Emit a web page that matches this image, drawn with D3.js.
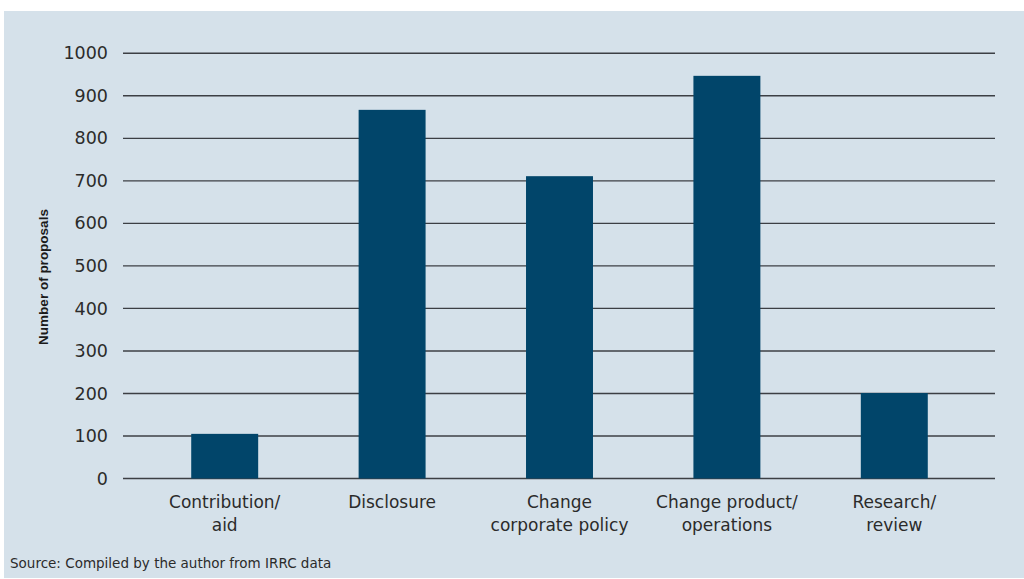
<!DOCTYPE html>
<html>
<head>
<meta charset="utf-8">
<script src="https://cdn.jsdelivr.net/npm/d3@7"></script>
<style>
  html, body { margin: 0; padding: 0; background: #ffffff; }
  svg { display: block; }
</style>
</head>
<body>
<svg id="chart" width="1024" height="579"></svg>
<script>
// Shareholder proposals by type of action requested
const categories = [
  ["Contribution/", "aid"],
  ["Disclosure"],
  ["Change", "corporate policy"],
  ["Change product/", "operations"],
  ["Research/", "review"]
];
const proposals = [105, 867, 711, 947, 201];
const yTicks = [0, 100, 200, 300, 400, 500, 600, 700, 800, 900, 1000];
const yTitle = "Number of proposals";
const sourceNote = "Source: Compiled by the author from IRRC data";

const svg = d3.select("#chart");
const W = 1024, H = 579;
const labelFont = "DejaVu Sans, Verdana, sans-serif";

// Panel background
svg.append("rect")
  .attr("x", 4).attr("y", 11)
  .attr("width", W - 4).attr("height", H - 12)
  .attr("fill", "#d5e1ea");

const gridLeft = 123, gridRight = 995;
const y = d3.scaleLinear().domain([0, 1000]).range([478.5, 53.3]);
const x = d3.scaleBand()
  .domain(categories.map((d, i) => i))
  .range([141, 978])
  .paddingInner(0.6)
  .paddingOuter(0.3);

// Horizontal gridlines
svg.append("g")
  .selectAll("line")
  .data(yTicks)
  .join("line")
  .attr("x1", gridLeft).attr("x2", gridRight)
  .attr("y1", d => y(d)).attr("y2", d => y(d))
  .attr("stroke", "#3c3f44")
  .attr("stroke-width", 1.4);

// Y axis tick labels
const yAxis = d3.axisLeft(y).tickValues(yTicks).tickFormat(d3.format("d")).tickSize(0).tickPadding(0);
const gy = svg.append("g").attr("transform", "translate(108,0)").call(yAxis);
gy.select(".domain").remove();
gy.selectAll("text")
  .attr("font-family", labelFont)
  .attr("font-size", 17.5)
  .attr("fill", "#2b2b2b");

// Bars
svg.append("g")
  .selectAll("rect")
  .data(proposals)
  .join("rect")
  .attr("x", (d, i) => x(i))
  .attr("width", x.bandwidth())
  .attr("y", d => y(d))
  .attr("height", d => y(0) - y(d))
  .attr("fill", "#01456a");

// Category labels
const labels = svg.append("g");
categories.forEach((lines, i) => {
  const cx = x(i) + x.bandwidth() / 2;
  const t = labels.append("text")
    .attr("text-anchor", "middle")
    .attr("font-family", labelFont)
    .attr("font-size", 17)
    .attr("fill", "#2b2b2b");
  lines.forEach((s, k) => {
    t.append("tspan").attr("x", cx).attr("y", 508 + k * 23).text(s);
  });
});

// Y axis title
svg.append("text")
  .attr("transform", "translate(48,277) rotate(-90)")
  .attr("text-anchor", "middle")
  .attr("font-family", "Liberation Sans, Arial, sans-serif")
  .attr("font-weight", "bold")
  .attr("font-size", 13.5)
  .attr("fill", "#1a1a1a")
  .text(yTitle);

// Source note
svg.append("text")
  .attr("x", 10).attr("y", 568)
  .attr("font-family", labelFont)
  .attr("font-size", 13.5)
  .attr("fill", "#2b2b2b")
  .text(sourceNote);
</script>
</body>
</html>
